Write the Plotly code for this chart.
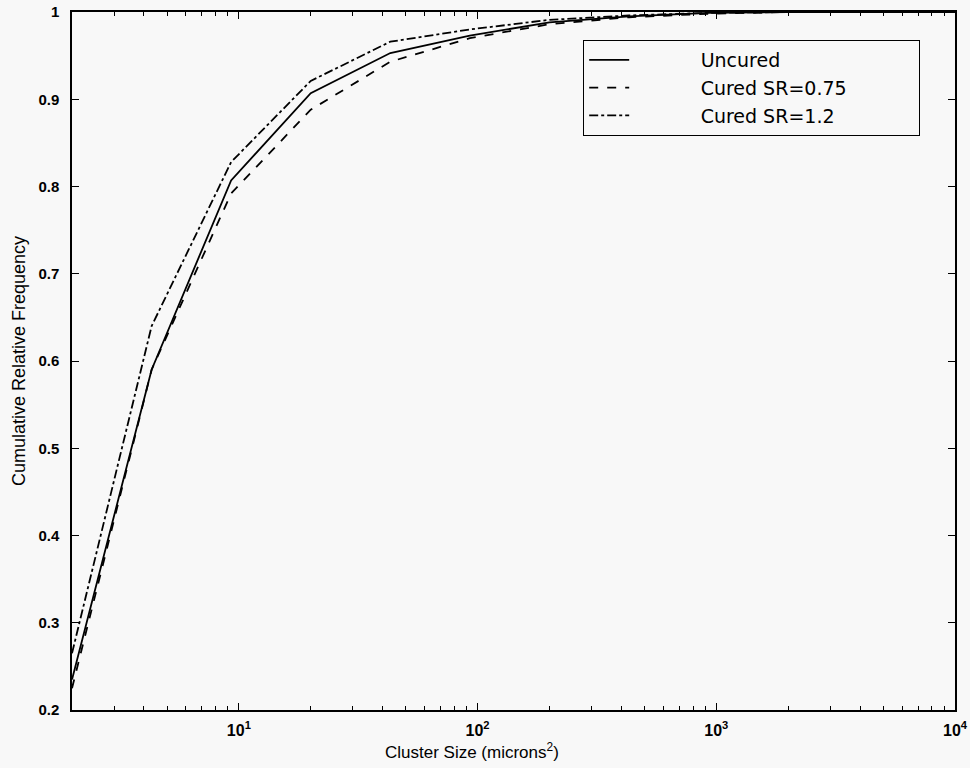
import plotly.graph_objects as go

cluster_size = [2, 4.31, 9.28, 20, 43.1, 92.8, 200, 431, 928, 2000, 4310, 10000]
uncured = [0.235, 0.59, 0.807, 0.907, 0.953, 0.973, 0.988, 0.995, 0.999, 1.0, 1.0, 1.0]
cured_075 = [0.225, 0.59, 0.792, 0.888, 0.943, 0.970, 0.986, 0.994, 0.998, 1.0, 1.0, 1.0]
cured_12 = [0.265, 0.64, 0.828, 0.921, 0.966, 0.980, 0.991, 0.996, 0.999, 1.0, 1.0, 1.0]

x_tickvals = [10, 100, 1000, 10000]
x_ticktext = ["10<sup>1</sup>", "10<sup>2</sup>", "10<sup>3</sup>", "10<sup>4</sup>"]
series_names = ["Uncured", "Cured SR=0.75", "Cured SR=1.2"]

font = "Liberation Sans, Arial, sans-serif"
legend_font = "DejaVu Sans, Liberation Sans, sans-serif"
pad = "\u00a0" * 11
tail = "\u00a0" * 11

fig = go.Figure()
for name, vals, dash in zip(series_names, [uncured, cured_075, cured_12],
                            ["solid", "dash", "dashdot"]):
    fig.add_trace(go.Scatter(x=cluster_size, y=vals, mode="lines", name=pad + name + tail,
                             line=dict(color="black", width=1.8, dash=dash)))

fig.update_layout(
    width=970, height=768,
    margin=dict(l=72, r=15, t=12, b=58, autoexpand=False),
    paper_bgcolor="#f8f8f8", plot_bgcolor="#f8f8f8",
    font=dict(family=font, color="black", size=14),
    showlegend=True,
    legend=dict(x=0.5787, y=0.96, xanchor="left", yanchor="top",
                bgcolor="#f8f8f8", bordercolor="black", borderwidth=1.2,
                font=dict(size=19, family=legend_font), itemwidth=40,
                tracegroupgap=0),
    annotations=[dict(text="Cluster Size (microns<sup>2</sup>)", xref="paper", yref="paper",
                      x=0.453, y=0, yshift=-28, xanchor="center", yanchor="top",
                      showarrow=False, font=dict(size=17, family=font))],
)
fig.update_xaxes(
    type="log", range=[0.301, 4], automargin=False,
    tickvals=x_tickvals, ticktext=x_ticktext,
    ticks="inside", ticklen=7, tickwidth=1, tickcolor="black",
    showline=True, linecolor="black", linewidth=1.5, mirror="ticks",
    showgrid=False, zeroline=False, ticklabelstandoff=5,
    minor=dict(ticks="inside", ticklen=4, tickcolor="black", dtick="D1", showgrid=False),
    tickfont=dict(size=16, family=font, weight="bold"),
)
fig.update_yaxes(
    range=[0.2, 1.0], dtick=0.1, tick0=0.2, automargin=False,
    ticks="inside", ticklen=7, tickwidth=1, tickcolor="black",
    showline=True, linecolor="black", linewidth=1.5, mirror="ticks",
    showgrid=False, zeroline=False, ticklabelstandoff=8,
    tickfont=dict(size=15, family=font, weight="bold"),
    title=dict(text="Cumulative Relative Frequency", font=dict(size=18, family=font), standoff=8),
)

fig.write_html("out.html", post_script="document.body.style.margin='0';",
               config={"displayModeBar": False})
